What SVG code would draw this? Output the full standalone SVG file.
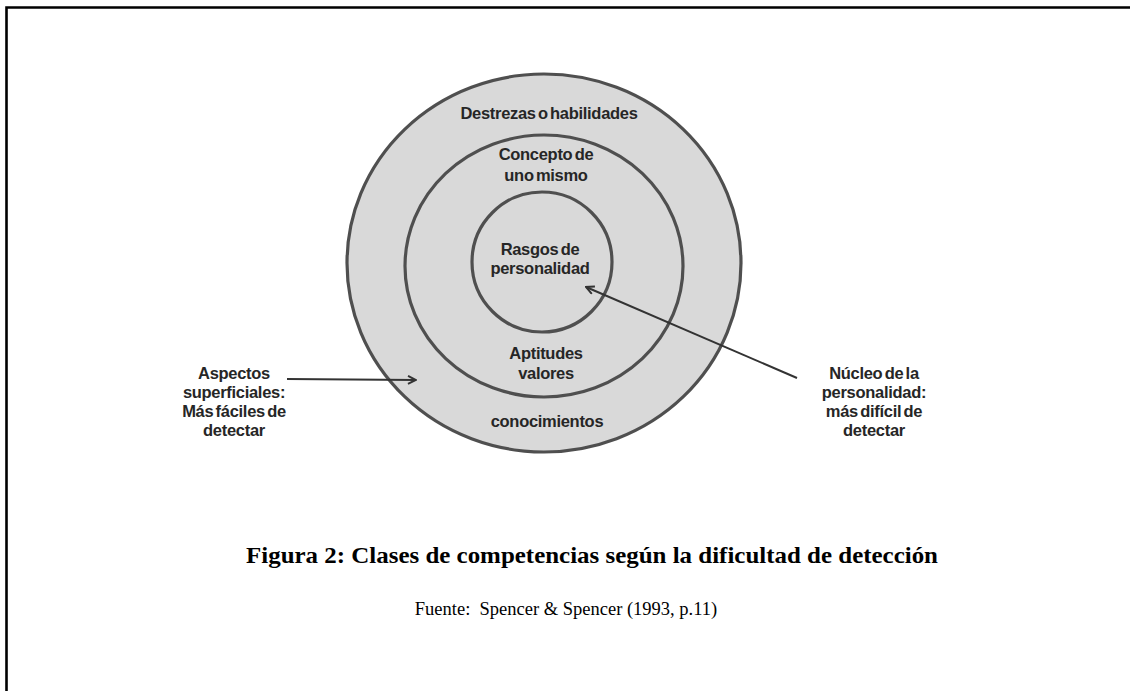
<svg xmlns="http://www.w3.org/2000/svg" width="1130" height="691" viewBox="0 0 1130 691">
  <style>
    .ring { fill: #d9d9d9; stroke: #505050; stroke-width: 3.2; filter: url(#soft); }
    .lbl { font-family: "Liberation Sans", Arial, sans-serif; font-weight: bold; font-size: 16.5px; letter-spacing: -0.3px; word-spacing: -2px; fill: #262626; text-anchor: middle; }
    .conn { stroke: #333; stroke-width: 2; fill: none; marker-end: url(#tip); }
    .cap { font-family: "Liberation Serif", "Times New Roman", serif; fill: #000; text-anchor: middle; }
  </style>
  <defs>
    <filter id="soft" x="-5%" y="-5%" width="110%" height="110%">
      <feGaussianBlur stdDeviation="0.7"/>
    </filter>
    <marker id="tip" viewBox="0 0 10 10" refX="9" refY="5" markerWidth="5" markerHeight="5" orient="auto" markerUnits="strokeWidth">
      <path d="M1,1 L9,5 L1,9" fill="none" stroke="#333" stroke-width="2"/>
    </marker>
  </defs>

  <!-- frame -->
  <path d="M6.5,691 V7.5 H1130" fill="none" stroke="#000" stroke-width="2.6"/>

  <!-- concentric levels -->
  <g id="outer">
    <ellipse class="ring" cx="544" cy="263" rx="197" ry="189"/>
    <text class="lbl" x="549" y="119">Destrezas o habilidades</text>
    <text class="lbl" x="547" y="427">conocimientos</text>
  </g>
  <g id="middle">
    <ellipse class="ring" cx="544" cy="266" rx="139" ry="131"/>
    <text class="lbl" x="546" y="160">Concepto de</text>
    <text class="lbl" x="546" y="181">uno mismo</text>
    <text class="lbl" x="546" y="359">Aptitudes</text>
    <text class="lbl" x="546" y="379">valores</text>
  </g>
  <g id="inner">
    <ellipse class="ring" cx="542" cy="262" rx="70" ry="70"/>
    <text class="lbl" x="540" y="255">Rasgos de</text>
    <text class="lbl" x="540" y="274">personalidad</text>
  </g>

  <!-- side notes -->
  <g id="note-left">
    <text class="lbl" x="234" y="379">Aspectos</text>
    <text class="lbl" x="234" y="398">superficiales:</text>
    <text class="lbl" x="234" y="417">Más fáciles de</text>
    <text class="lbl" x="234" y="436">detectar</text>
  </g>
  <g id="note-right">
    <text class="lbl" x="874" y="379">Núcleo de la</text>
    <text class="lbl" x="874" y="398">personalidad:</text>
    <text class="lbl" x="874" y="417">más difícil de</text>
    <text class="lbl" x="874" y="436">detectar</text>
  </g>

  <g id="connectors">
    <line class="conn" x1="287" y1="379" x2="416" y2="380"/>
    <line class="conn" x1="797" y1="378" x2="586" y2="287"/>
  </g>

  <!-- caption -->
  <g id="caption">
    <text class="cap" x="592" y="563" font-size="23" font-weight="bold" textLength="692" lengthAdjust="spacingAndGlyphs">Figura 2: Clases de competencias según la dificultad de detección</text>
    <text class="cap" x="566" y="615" font-size="18.5" xml:space="preserve">Fuente:  Spencer &amp; Spencer (1993, p.11)</text>
  </g>
</svg>
